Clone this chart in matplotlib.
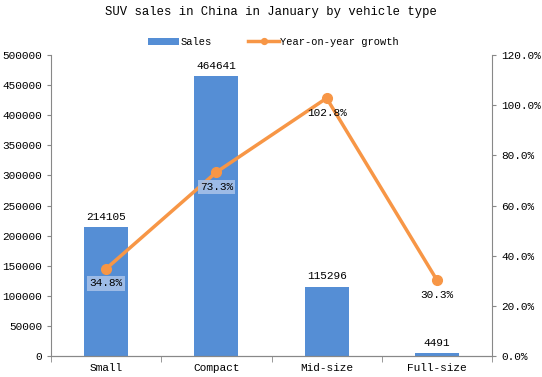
import matplotlib
matplotlib.use("Agg")
import matplotlib.pyplot as plt
from matplotlib.ticker import FuncFormatter, MultipleLocator

categories = ["Small", "Compact", "Mid-size", "Full-size"]
sales = [214105, 464641, 115296, 4491]
growth = [34.8, 73.3, 102.8, 30.3]

plt.rcParams['font.family'] = ['Liberation Mono', 'DejaVu Sans Mono']
plt.rcParams['font.size'] = 8

fig = plt.figure(figsize=(5.42, 3.77), dpi=100)
ax = fig.add_axes([51/542, 1-356/377, 441/542, 301/377])
ax2 = ax.twinx()

blue = "#558ED5"
orange = "#F79646"
grey = "#888888"

x = list(range(len(categories)))
bars = ax.bar(x, sales, width=0.4, color=blue, label="Sales", zorder=1)
ax.set_xlim(-0.5, 3.5)
ax.set_ylim(0, 500000)
ax.yaxis.set_major_locator(MultipleLocator(50000))
ax.set_xticks(x)
ax.set_xticklabels(categories)
for xi, v in zip(x, sales):
    ax.annotate(f"{v}", (xi, v), xytext=(0, 4), textcoords="offset points",
                ha="center", va="bottom", fontsize=8)

ax2.set_ylim(0, 120)
ax2.yaxis.set_major_locator(MultipleLocator(20))
ax2.yaxis.set_major_formatter(FuncFormatter(lambda v, p: f"{v:.1f}%"))
line, = ax2.plot(x, growth, color=orange, lw=2.5, marker="o", ms=7, label="Year-on-year growth", zorder=3)
for xi, g, s in zip(x, growth, sales):
    on_bar = s / 500000 * 120 > g
    bbox = dict(boxstyle="square,pad=0.2", fc="#A6C1E9", ec="none", alpha=0.9) if on_bar else None
    ax2.annotate(f"{g}%", (xi, g), xytext=(0, -7), textcoords="offset points",
                 ha="center", va="top", fontsize=8, bbox=bbox, zorder=4)

ax.set_zorder(0)
ax2.set_zorder(1)
ax2.patch.set_visible(False)

for a in (ax, ax2):
    for s in a.spines.values():
        s.set_color(grey)
    a.spines['top'].set_visible(False)
    a.tick_params(colors=grey, labelcolor="black", length=3, labelsize=8)
ax.spines['right'].set_visible(False)
ax2.spines['left'].set_visible(False)
ax.set_xticks([-0.5, 0.5, 1.5, 2.5, 3.5], minor=True)
ax.tick_params(axis='x', which='major', length=0, pad=5)
ax.tick_params(axis='x', which='minor', length=4, color=grey)

fig.suptitle("SUV sales in China in January by vehicle type", y=0.985, fontsize=8.8)
fig.legend(handles=[bars, line], labels=["Sales", "Year-on-year growth"], loc="center",
           bbox_to_anchor=(0.505, 1-42/377), ncol=2, frameon=False, fontsize=7.5,
           handlelength=3, columnspacing=3.5, handletextpad=0.1, markerscale=0.6)

fig.savefig("out.png", dpi=100)
